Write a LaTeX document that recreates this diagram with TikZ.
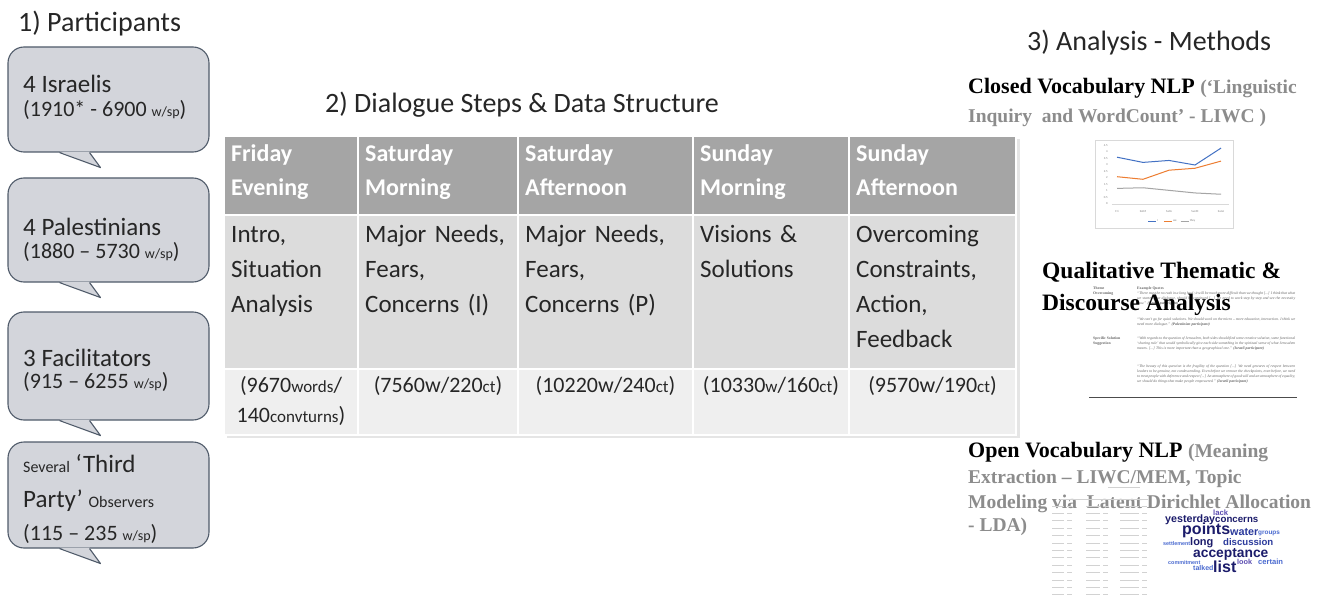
\documentclass[tikz,border=0pt]{standalone}
\usepackage{fontspec}
\setmainfont{Carlito}
\newfontfamily\serifbf{Liberation Serif}
\newfontfamily\cloudsf{Liberation Sans}
\usetikzlibrary{positioning}

\newcommand{\fsz}[1]{\fontsize{#1}{#1}\selectfont}

\definecolor{txtdark}{HTML}{262626}
\definecolor{bubblefill}{HTML}{D3D5DB}
\definecolor{bubbleline}{HTML}{505B6A}
\definecolor{hdgray}{HTML}{A5A5A5}
\definecolor{bodygray}{HTML}{DCDCDC}
\definecolor{cntgray}{HTML}{EFEFEF}
\definecolor{methgray}{HTML}{8C8C8C}
\definecolor{lineblue}{HTML}{4472C4}
\definecolor{lineorange}{HTML}{ED7D31}
\definecolor{linegray}{HTML}{A5A5A5}
\definecolor{cloudnavy}{HTML}{1C1C6B}
\definecolor{cloudblue}{HTML}{2B3A9C}
\definecolor{cloudlight}{HTML}{4A6AD0}
\definecolor{cloudviolet}{HTML}{5C4DB1}

\tikzset{
  heading/.style={anchor=base west, inner sep=0pt, font=\fsz{28}, text=txtdark},
  bubble/.style={draw=bubbleline, fill=bubblefill, line width=1.1pt, rounded corners=16pt,
    inner sep=0pt, minimum width=201pt},
  btext/.style={anchor=base west, inner sep=0pt, text=txtdark},
  hdcell/.style={fill=hdgray, draw=white, line width=2pt, anchor=north west, inner sep=0pt, minimum height=79pt},
  bdcell/.style={fill=bodygray, draw=white, line width=2pt, anchor=north west, inner sep=0pt, minimum height=154pt},
  ctcell/.style={fill=cntgray, draw=white, line width=2pt, anchor=north west, inner sep=0pt, minimum height=66pt},
  hdtext/.style={anchor=base west, inner sep=0pt, align=left, text width=150pt, text=white,
    font=\bfseries\fontsize{24}{33}\selectfont},
  bdtext/.style={anchor=base west, inner sep=0pt, align=left, text width=160pt, text=txtdark,
    font=\fontsize{25}{35}\selectfont},
  cttext/.style={anchor=base, inner sep=0pt, align=center, text=txtdark, font=\fontsize{22}{30}\selectfont},
  method/.style={anchor=base west, inner sep=0pt, font=\serifbf\bfseries},
  tiny/.style={anchor=north west, inner sep=0pt, font=\serifbf\fontsize{3.8}{5}\selectfont, text=black!60},
  quote/.style={tiny, align=justify, text width=158pt, font=\serifbf\itshape\fontsize{3.8}{5}\selectfont},
  cloudword/.style={anchor=base west, inner sep=0pt, font=\cloudsf\bfseries},
  greek/.style={line width=0.8pt, gray!35},
}

\begin{document}
\begin{tikzpicture}[x=1pt,y=-1pt]
\useasboundingbox[fill=white] (0,0) rectangle (1331,599);

% headings
\node[heading] (part) at (18,32) {1) Participants};
\node[heading] (dlg) at (325,113) {2) Dialogue Steps \& Data Structure};
\node[heading] (anl) at (1027,51) {3) Analysis - Methods};

% speech bubbles
\node[bubble, minimum height=105pt] (isr) at (108.5,99.5) {};
\node[bubble, minimum height=104pt] (pal) at (108.5,230) {};
\node[bubble, minimum height=108pt] (fac) at (108.5,366) {};
\node[bubble, minimum height=106pt] (obs) at (108.5,495) {};
\foreach \b in {isr,pal,fac,obs}{
  \fill[bubblefill] ([xshift=-49pt,yshift=1pt]\b.south) -- ([xshift=-8pt,yshift=-15pt]\b.south)
    -- ([xshift=-19pt,yshift=1pt]\b.south) -- cycle;
  \draw[bubbleline, line width=1.1pt, line join=round] ([xshift=-49pt]\b.south)
    -- ([xshift=-8pt,yshift=-15pt]\b.south) -- ([xshift=-19pt]\b.south);
}

\node[btext, font=\fsz{25}] (isr1) at (23,93) {4 Israelis};
\node[btext, font=\fsz{22}] (isr2) at (23,117) {(1910* - 6900 {\fsz{14}w/sp})};
\node[btext, font=\fsz{25}] (pal1) at (23,235) {4 Palestinians};
\node[btext, font=\fsz{22}] (pal2) at (23,258) {(1880 – 5730 {\fsz{14}w/sp})};
\node[btext, font=\fsz{25}] (fac1) at (23,366) {3 Facilitators};
\node[btext, font=\fsz{22}] (fac2) at (23,388) {(915 – 6255 {\fsz{14}w/sp})};
\node[btext, font=\fsz{25}] (obs1) at (23,472) {{\fsz{16}Several} ‘Third};
\node[btext, font=\fsz{25}] (obs2) at (23,507) {Party’ {\fsz{16}Observers}};
\node[btext, font=\fsz{22}] (obs3) at (23,540) {(115 – 235 {\fsz{14}w/sp})};

% table
\fill[black, opacity=0.10] (227,139) rectangle (1020,438);
\fill[black, opacity=0.12] (225,137) rectangle (1017,435);
\foreach \x/\w/\da/\tm [count=\i] in {223/134/Friday/Evening, 357/160/Saturday/Morning,
    517/175/Saturday/Afternoon, 692/156/Sunday/Morning, 848/167/Sunday/Afternoon}{
  \node[hdcell, minimum width=\w pt] (hd\i) at (\x,135) {};
  \node[bdcell, minimum width=\w pt] (bd\i) at (\x,214) {};
  \node[ctcell, minimum width=\w pt] (ct\i) at (\x,368) {};
  \node[hdtext] (hdt\i) at ([xshift=8pt,yshift=-27pt]hd\i.north west) {\da\\\tm};
}
\node[bdtext] (bdt1) at ([xshift=8pt,yshift=-28pt]bd1.north west) {Intro,\\Situation\\Analysis};
\node[bdtext] (bdt2) at ([xshift=8pt,yshift=-28pt]bd2.north west) {Major Needs,\\Fears,\\Concerns (I)};
\node[bdtext] (bdt3) at ([xshift=8pt,yshift=-28pt]bd3.north west) {Major Needs,\\Fears,\\Concerns (P)};
\node[bdtext] (bdt4) at ([xshift=8pt,yshift=-28pt]bd4.north west) {Visions \&\\Solutions};
\node[bdtext] (bdt5) at ([xshift=8pt,yshift=-28pt]bd5.north west) {Overcoming\\Constraints,\\Action,\\Feedback};

\node[cttext, text width=134pt] (ctt1) at ([yshift=-24pt]ct1.north) {(9670{\fsz{17}words}/\\140{\fsz{17}convturns})};
\node[cttext, text width=160pt] (ctt2) at ([yshift=-24pt]ct2.north) {(7560w/220{\fsz{17}ct})};
\node[cttext, text width=175pt] (ctt3) at ([yshift=-24pt]ct3.north) {(10220w/240{\fsz{17}ct})};
\node[cttext, text width=156pt] (ctt4) at ([yshift=-24pt]ct4.north) {(10330{\fsz{17}w}/160{\fsz{17}ct})};
\node[cttext, text width=167pt] (ctt5) at ([yshift=-24pt]ct5.north) {(9570w/190{\fsz{17}ct})};

% closed vocabulary
\node[method] (cv1) at (968,94) {\fsz{22}Closed Vocabulary NLP \textcolor{methgray}{\fsz{19.5}(‘Linguistic}};
\node[method, text=methgray] (cv2) at (968,123) {\fsz{19.5}Inquiry\ \ and WordCount’ - LIWC )};

\draw[gray!30, fill=white] (1095,140) rectangle (1233,228);
\begin{scope}[shift={(1117,204)}, x=26pt, y=13pt]
  \draw[gray!30, line width=0.3pt] (-0.2,0) -- (4.3,0);
  \foreach \v [count=\k] in {0,0.5,1,1.5,2,2.5,3,3.5,4,4.5}
    \node[font=\fsz{3}, text=gray, anchor=east, inner sep=0pt] (tk\k) at (-0.35,\v) {\v};
  \foreach \d [count=\k from 0] in {Fri,SatM,SatA,SunM,SunA}
    \node[font=\fsz{3}, text=gray, inner sep=0pt] (dl\k) at (\k,-0.6) {\d};
  \draw[lineblue, line width=1pt] (0,3.6) -- (1,3.2) -- (2,3.35) -- (3,3.0) -- (4,4.3);
  \draw[lineorange, line width=1pt] (0,2.1) -- (1,1.9) -- (2,2.6) -- (3,2.75) -- (4,3.3);
  \draw[linegray, line width=1pt] (0,1.2) -- (1,1.25) -- (2,1.05) -- (3,0.85) -- (4,0.75);
  \draw[lineblue, line width=0.8pt] (1.2,-1.3) -- (1.5,-1.3) node[right, font=\fsz{3}, text=gray, inner sep=1pt] (lg1) {I};
  \draw[lineorange, line width=0.8pt] (1.8,-1.3) -- (2.1,-1.3) node[right, font=\fsz{3}, text=gray, inner sep=1pt] (lg2) {we};
  \draw[linegray, line width=0.8pt] (2.45,-1.3) -- (2.75,-1.3) node[right, font=\fsz{3}, text=gray, inner sep=1pt] (lg3) {they};
\end{scope}

% qualitative thematic table thumbnail
\node[tiny, font=\serifbf\bfseries\fontsize{3.8}{5}\selectfont] (thm) at (1093,287) {Theme};
\node[tiny, font=\serifbf\bfseries\fontsize{3.8}{5}\selectfont] (exq) at (1137,287) {Example Quotes};
\node[tiny, font=\serifbf\bfseries\fontsize{3.8}{5}\selectfont] (ovc) at (1093,292) {Overcoming};
\node[quote] (q1) at (1137,292) {“There must be no rush in a long haul; it will be much more difficult than we thought [...] I think that what we started, our dialogue, should be continued [...] We need to work step by step and see the necessity now.” \textbf{(Israeli participant)}};
\node[quote] (q2) at (1137,318) {“We can’t go for quick solutions. We should work on the micro – more education, interaction. I think we need more dialogue.” \textbf{(Palestinian participant)}};
\node[tiny, align=left, font=\serifbf\bfseries\fontsize{3.8}{5}\selectfont] (sps) at (1093,337) {Specific Solution\\Suggestion};
\node[quote] (q3) at (1137,337) {“With regards to the question of Jerusalem, both sides should find some creative solution, some functional ‘sharing rule’ that would symbolically give each side something in the spiritual sense of what Jerusalem means. [...] This is more important than a geographical one.” \textbf{(Israeli participant)}};
\node[quote] (q4) at (1137,365) {“The beauty of this question is the fragility of the question [...] We need gestures of respect between leaders to be genuine, not condescending. Even before we remove the checkpoints, even before, we need to treat people with deference and respect [...] An atmosphere of good will and an atmosphere of equality, we should do things that make people empowered.” \textbf{(Israeli participant)}};
\draw[black!70, line width=0.7pt] (1089,397) -- (1297,397);

\node[method] (qt1) at (1042,278) {\fsz{23.5}Qualitative Thematic \&};
\node[method] (qt2) at (1042,310) {\fsz{23.5}Discourse Analysis};

% open vocabulary
\node[method] (ov1) at (968,457) {\fsz{22}Open Vocabulary NLP \textcolor{methgray}{\fsz{19.5}(Meaning}};
\node[method, text=methgray] (ov2) at (968,483) {\fsz{19.5}Extraction – LIWC/MEM, Topic};
\node[method, text=methgray] (ov3) at (968,508) {\fsz{19.5}Modeling via\ \ Latent Dirichlet Allocation};
\node[method, text=methgray] (ov4) at (968,531) {\fsz{19.5}- LDA)};

% LDA word table (thumbnail)
\draw[greek, line width=0.6pt] (1108,487) -- (1140,487);
\draw[greek, line width=0.5pt] (1060,499) -- (1148,499);
\foreach \r in {0,...,12}{
  \draw[greek] (1052,506+7.4*\r) -- (1064,506+7.4*\r);
  \draw[greek] (1067,506+7.4*\r) -- (1072,506+7.4*\r);
  \draw[greek] (1086,506+7.4*\r) -- (1100,506+7.4*\r);
  \draw[greek] (1103,506+7.4*\r) -- (1108,506+7.4*\r);
  \draw[greek] (1120,506+7.4*\r) -- (1139,506+7.4*\r);
  \draw[greek] (1142,506+7.4*\r) -- (1147,506+7.4*\r);
}

% word cloud
\node[cloudword, text=cloudviolet, font=\cloudsf\bfseries\fsz{7.7}] (wlack) at (1213,515) {lack};
\node[cloudword, text=cloudnavy, font=\cloudsf\bfseries\fsz{10.7}] (wyes) at (1165,522) {yesterday};
\node[cloudword, text=cloudnavy, font=\cloudsf\bfseries\fsz{9.7}] (wcon) at (1215,522) {concerns};
\node[cloudword, text=cloudnavy, font=\cloudsf\bfseries\fsz{16}] (wpts) at (1182,534) {points};
\node[cloudword, text=cloudblue, font=\cloudsf\bfseries\fsz{10.8}] (wwat) at (1230,535) {water};
\node[cloudword, text=cloudlight, font=\cloudsf\bfseries\fsz{6.4}] (wgrp) at (1258,534) {groups};
\node[cloudword, text=cloudlight, font=\cloudsf\bfseries\fsz{5.4}] (wset) at (1163,545) {settlement};
\node[cloudword, text=cloudnavy, font=\cloudsf\bfseries\fsz{11}] (wlng) at (1190,545) {long};
\node[cloudword, text=cloudblue, font=\cloudsf\bfseries\fsz{9.6}] (wdis) at (1223,545) {discussion};
\node[cloudword, text=cloudnavy, font=\cloudsf\bfseries\fsz{13.8}] (wacc) at (1193,557) {acceptance};
\node[cloudword, text=cloudlight, font=\cloudsf\bfseries\fsz{5.4}] (wcom) at (1168,564) {commitment};
\node[cloudword, text=cloudlight, font=\cloudsf\bfseries\fsz{7.6}] (wcer) at (1258,564) {certain};
\node[cloudword, text=cloudviolet, font=\cloudsf\bfseries\fsz{7.3}] (wlook) at (1237,564) {look};
\node[cloudword, text=cloudlight, font=\cloudsf\bfseries\fsz{7}] (wtal) at (1193,570) {talked};
\node[cloudword, text=cloudnavy, font=\cloudsf\bfseries\fsz{16}] (wlst) at (1213,572) {list};
\end{tikzpicture}
\end{document}
